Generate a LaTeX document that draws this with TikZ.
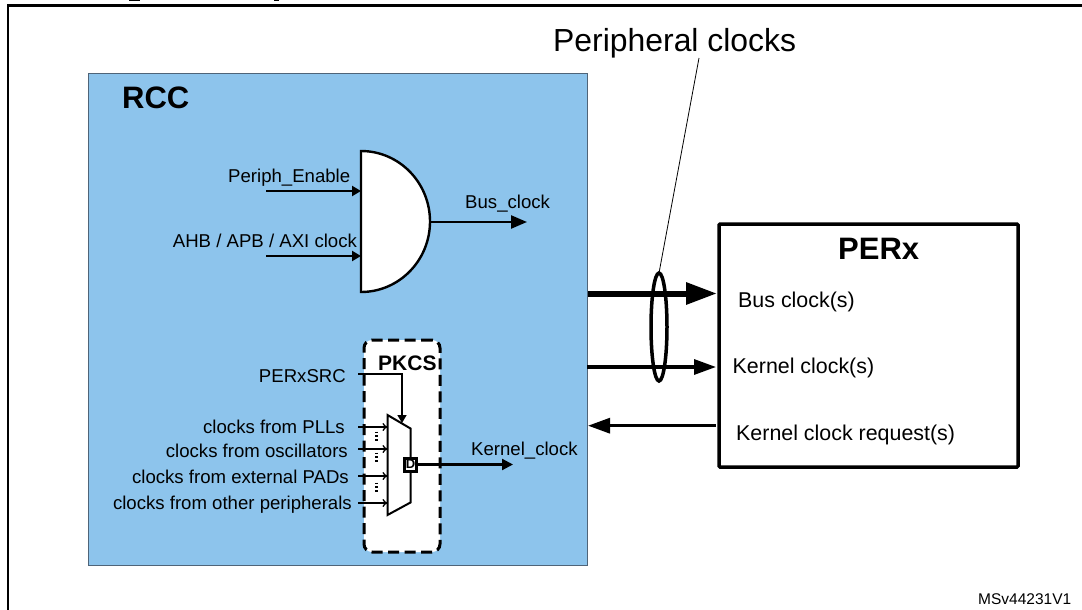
\documentclass[tikz,border=0pt]{standalone}
\usepackage{fontspec}
\setmainfont{Liberation Sans}
\usetikzlibrary{arrows.meta}
\usetikzlibrary{shapes.geometric}
\tikzset{>={Triangle}}
\definecolor{rccblue}{HTML}{8DC4EC}
\definecolor{rccedge}{HTML}{4F6478}
\tikzset{
	lbl/.style={font=\fontsize{18.6}{20}\selectfont, inner sep=0pt, anchor=base west},
	lblr/.style={lbl, anchor=base east},
	perlbl/.style={font=\fontsize{21.4}{23}\selectfont, inner sep=0pt, anchor=base west},
	title/.style={font=\fontsize{31}{33}\selectfont\bfseries, inner sep=0pt, anchor=base west},
	gatearrow/.style={-{Triangle[length=9pt,width=10pt]}, line width=2.4pt},
	muxarrow/.style={-{To[length=5pt,width=8pt]}, line width=1.3pt}
}

\begin{document}
\begin{tikzpicture}[x=1pt, y=-1pt]
		\useasboundingbox (0,0) rectangle (1082,610);

		% frame, cut off by the page
		\draw[line width=2.4pt] (1082,5.5) -- (8,5.5) -- (8,610);
		\fill (129,0) rectangle (140,1.5);
		\fill (274,0) rectangle (279,1.5);

		\node[draw=rccedge, fill=rccblue, line width=1pt, inner sep=0pt, outer sep=0pt, minimum width=499pt, minimum height=491pt] (rcc) at (337.5,319.5) {};
		\node[title] (rcc_label) at (122,108.5) {RCC};

		% gate
		\draw[fill=white, line width=2.4pt] (361,151) arc[start angle=90, end angle=-90, x radius=69pt, y radius=70.5pt] -- cycle;
		\coordinate (gate_a) at (361,191);
		\coordinate (gate_b) at (361,256);
		\coordinate (gate_out) at (430,222);
		\coordinate (enable_in) at (266,191);
		\coordinate (ahb_in) at (266,256);
		\coordinate (bus_end) at (527,222);
		\draw[gatearrow] (enable_in) -- (gate_a);
		\draw[gatearrow] (ahb_in) -- (gate_b);
		\draw[-{Triangle[length=16pt,width=13pt]}, line width=2.4pt] (gate_out) -- (bus_end);
		\node[lbl] (enable_label) at (228,182) {Periph\_Enable};
		\node[lbl] (ahb_label) at (172.7,247) {AHB / APB / AXI clock};
		\node[lbl] (bus_label) at (465,208) {Bus\_clock};

		% PKCS
		\node[draw, fill=white, line width=3pt, dash pattern=on 11pt off 5.5pt, rounded corners=8pt, inner sep=0pt, outer sep=0pt, minimum width=76pt, minimum height=212pt] (pkcs) at (402,446) {};
		\node[font=\fontsize{21}{23}\selectfont\bfseries, inner sep=0pt, anchor=base west] (pkcs_label) at (378,370) {PKCS};

		\draw[fill=white, line width=2pt] (387.5,415) -- (410.5,428.5) -- (410.5,502.5) -- (387.5,515) -- cycle;
		\coordinate (src_in) at (358,374);
		\coordinate (src_end) at (402,423);
		\draw[-{Triangle[length=8pt,width=9pt]}, line width=1.6pt] (src_in) -| (src_end);
		\node[lblr] (src_label) at (346,382) {PERxSRC};

		\foreach \y/\name in {427/a, 449/b, 476/c, 503/d} {
			\coordinate (in_\name) at (358,\y);
			\coordinate (mux_\name) at (387.5,\y);
			\draw[muxarrow] (in_\name) -- (mux_\name);
		}
		\foreach \y in {437,458,488}
			\draw[line width=3pt, dash pattern=on 1.8pt off 2pt] (376.5,\y-5.5) -- (376.5,\y+5.5);

		\node[lblr] (pll_label) at (345,433) {clocks from PLLs};
		\node[lblr] (osc_label) at (348,457) {clocks from oscillators};
		\node[lblr] (pad_label) at (349,483) {clocks from external PADs};
		\node[lblr] (other_label) at (352,509) {clocks from other peripherals};

		\node[draw, fill=white, line width=3pt, inner sep=0pt, outer sep=0pt, minimum width=12pt, minimum height=13pt, font=\fontsize{13}{13}\selectfont\bfseries] (dbox) at (410.5,464.5) {D};
		\coordinate (kernel_end) at (513,464.5);
		\draw[-{Triangle[length=11pt,width=11pt]}, line width=2.2pt] (dbox) -- (kernel_end);
		\node[lbl] (kernel_label) at (471,455) {Kernel\_clock};

		% PERx
		\node[draw, line width=3.5pt, rounded corners=1pt, inner sep=0pt, outer sep=0pt, minimum width=299pt, minimum height=243pt] (perx) at (868.5,345.5) {};
		\node[title] (perx_label) at (838,259) {PERx};
		\node[perlbl] (perx_bus) at (738,307) {Bus clock(s)};
		\node[perlbl] (perx_kernel) at (732.5,373) {Kernel clock(s)};
		\node[perlbl] (perx_req) at (736,440) {Kernel clock request(s)};

		\coordinate (bus_a) at (588,293.5);
		\coordinate (bus_b) at (717,293.5);
		\coordinate (ker_a) at (587,367);
		\coordinate (ker_b) at (716,367);
		\coordinate (req_a) at (716,425.7);
		\coordinate (req_b) at (588,425.7);
		\draw[-{Triangle[length=31pt,width=21pt]}, line width=6pt] (bus_a) -- (bus_b);
		\draw[-{Triangle[length=22pt,width=15pt]}, line width=3.2pt] (ker_a) -- (ker_b);
		\draw[-{Triangle[length=22pt,width=15pt]}, line width=3.2pt] (req_a) -- (req_b);

		% the ring round both clocks
		\node[draw, ellipse, line width=3.5pt, inner sep=0pt, outer sep=0pt, minimum width=16pt, minimum height=108pt] (ring) at (659,327) {};
		\coordinate (leader_top) at (699,58);
		\draw[line width=0.8pt] (leader_top) -- (ring.north);
		\node[font=\fontsize{31.9}{35}\selectfont, inner sep=0pt, anchor=base west] (clocks_label) at (553,52) {Peripheral clocks};

		\node[font=\fontsize{15.5}{17}\selectfont, inner sep=0pt, anchor=base west] (ref_label) at (978,604) {MSv44231V1};
	\end{tikzpicture}
\end{document}
